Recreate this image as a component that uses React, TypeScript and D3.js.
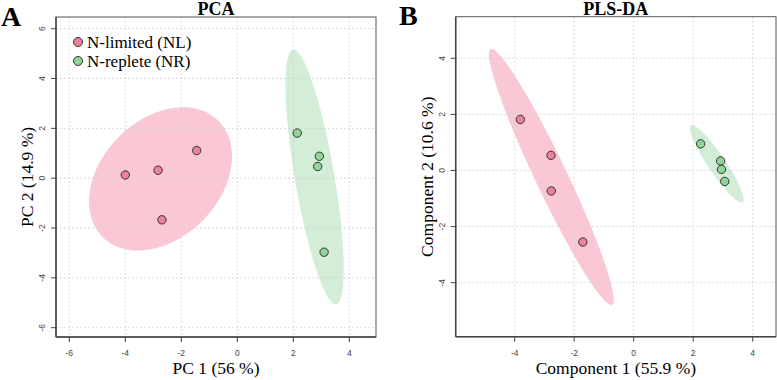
import { line, curveLinearClosed, range, scaleLinear } from 'd3';

// PCA scores (panel A)
const pcaNL = [
  [-4.0, 0.13],
  [-2.83, 0.32],
  [-1.45, 1.11],
  [-2.69, -1.67],
];
const pcaNR = [
  [2.14, 1.81],
  [2.93, 0.88],
  [2.87, 0.47],
  [3.1, -2.97],
];

// PLS-DA scores (panel B)
const plsNL = [
  [-3.81, 1.82],
  [-2.78, 0.54],
  [-2.77, -0.73],
  [-1.71, -2.55],
];
const plsNR = [
  [2.25, 0.95],
  [2.92, 0.34],
  [2.95, 0.04],
  [3.06, -0.39],
];

const pcaXTicks = [-6, -4, -2, 0, 2, 4];
const pcaYTicks = [-6, -4, -2, 0, 2, 4, 6];
const plsXTicks = [-4, -2, 0, 2, 4];
const plsYTicks = [-4, -2, 0, 2, 4];

const groups = ['N-limited (NL)', 'N-replete (NR)'];

const pointFill = ['#ec8299', '#8fd59a'];
const ellipseFill = ['#f9c8d4', '#d3edd6'];
const serif = '"Liberation Serif", "Times New Roman", serif';
const sans = '"Liberation Sans", Arial, sans-serif';

// 95% confidence ellipse from the sample covariance
function ellipsePoints(pts: number[][]) {
  const n = pts.length;
  const mx = pts.reduce((s, p) => s + p[0], 0) / n;
  const my = pts.reduce((s, p) => s + p[1], 0) / n;
  let sxx = 0, syy = 0, sxy = 0;
  pts.forEach(([x, y]) => {
    sxx += (x - mx) * (x - mx);
    syy += (y - my) * (y - my);
    sxy += (x - mx) * (y - my);
  });
  sxx /= n - 1; syy /= n - 1; sxy /= n - 1;
  const a = Math.sqrt(sxx);
  const b = sxy / a;
  const d = Math.sqrt(Math.max(syy - b * b, 0));
  const c = Math.sqrt(5.991);
  return range(0, 120).map(i => {
    const t = (i / 120) * Math.PI * 2;
    const u = Math.cos(t), v = Math.sin(t);
    return [mx + c * a * u, my + c * (b * u + d * v)];
  });
}

type PanelProps = {
  id: string;
  letter: string;
  title: string;
  xLabel: string;
  yLabel: string;
  box: { left: number; right: number; top: number; bottom: number };
  xDomain: [number, number];
  xRange: [number, number];
  yDomain: [number, number];
  yRange: [number, number];
  xTicks: number[];
  yTicks: number[];
  data: number[][][];
  legend?: boolean;
  letterX: number;
  letterY: number;
};

function Panel(p: PanelProps) {
  const x = scaleLinear().domain(p.xDomain).range(p.xRange);
  const y = scaleLinear().domain(p.yDomain).range(p.yRange);
  const { left, right, top, bottom } = p.box;
  const path = line<number[]>()
    .x(d => x(d[0]))
    .y(d => y(d[1]))
    .curve(curveLinearClosed);
  const cx = (left + right) / 2;
  const cy = (top + bottom) / 2;

  return (
    <g>
      <defs>
        <clipPath id={`clip-${p.id}`}>
          <rect x={left} y={top} width={right - left} height={bottom - top} />
        </clipPath>
      </defs>
      <g clipPath={`url(#clip-${p.id})`}>
        {p.data.map((pts, i) => (
          <path key={i} d={path(ellipsePoints(pts)) ?? ''} fill={ellipseFill[i]} />
        ))}
      </g>
      {p.xTicks.map(t => (
        <line key={`gx${t}`} x1={x(t)} x2={x(t)} y1={top} y2={bottom} stroke="#cfcfcf" strokeWidth={0.8} strokeDasharray="2 2" />
      ))}
      {p.yTicks.map(t => (
        <line key={`gy${t}`} x1={left} x2={right} y1={y(t)} y2={y(t)} stroke="#cfcfcf" strokeWidth={0.8} strokeDasharray="2 2" />
      ))}
      {p.data.map((pts, i) =>
        pts.map((d, j) => (
          <circle key={`${i}-${j}`} cx={x(d[0])} cy={y(d[1])} r={4.2} fill={pointFill[i]} stroke="#333" strokeWidth={1} />
        ))
      )}
      <rect x={left} y={top} width={right - left} height={bottom - top} fill="none" stroke="#555" strokeWidth={1} />
      <line x1={left} x2={left} y1={top} y2={bottom} stroke="#444" strokeWidth={1.5} />
      <line x1={left} x2={right} y1={bottom} y2={bottom} stroke="#444" strokeWidth={1.5} />
      {p.xTicks.map(t => (
        <g key={`tx${t}`}>
          <line x1={x(t)} x2={x(t)} y1={bottom} y2={bottom + 5} stroke="#444" />
          <text x={x(t)} y={356} textAnchor="middle" fontFamily={sans} fontSize={8.5} fill="#444">{t}</text>
        </g>
      ))}
      {p.yTicks.map(t => (
        <g key={`ty${t}`}>
          <line x1={left - 5} x2={left} y1={y(t)} y2={y(t)} stroke="#444" />
          <text transform={`translate(${left - 11},${y(t)}) rotate(-90)`} textAnchor="middle" fontFamily={sans} fontSize={8.5} fill="#444">{t}</text>
        </g>
      ))}
      <text x={cx} y={14.5} textAnchor="middle" fontFamily={serif} fontWeight="bold" fontSize={18}>{p.title}</text>
      <text x={p.letterX} y={p.letterY} fontFamily={serif} fontWeight="bold" fontSize={28}>{p.letter}</text>
      <text x={cx} y={374} textAnchor="middle" fontFamily={serif} fontSize={17.5}>{p.xLabel}</text>
      <text transform={`translate(${left - 23},${cy}) rotate(-90)`} textAnchor="middle" fontFamily={serif} fontSize={17.5}>{p.yLabel}</text>
      {p.legend &&
        groups.map((g, i) => (
          <g key={g}>
            <circle cx={left + 22} cy={42 + i * 19} r={4.5} fill={pointFill[i]} stroke="#333" />
            <text x={left + 31} y={48 + i * 19} fontFamily={serif} fontSize={17}>{g}</text>
          </g>
        ))}
    </g>
  );
}

export default function App() {
  return (
    <svg width={777} height={380} style={{ position: 'absolute', left: 0, top: 0, background: '#fff' }}>
      <Panel
        id="pca"
        letter="A"
        title="PCA"
        xLabel="PC 1 (56 %)"
        yLabel="PC 2 (14.9 %)"
        box={{ left: 56, right: 376, top: 17, bottom: 337 }}
        xDomain={[-6, 4]}
        xRange={[69.3, 349.3]}
        yDomain={[-6, 6]}
        yRange={[327.7, 28.7]}
        xTicks={pcaXTicks}
        yTicks={pcaYTicks}
        data={[pcaNL, pcaNR]}
        legend
        letterX={1}
        letterY={26}
      />
      <Panel
        id="pls"
        letter="B"
        title="PLS-DA"
        xLabel="Component 1 (55.9 %)"
        yLabel="Component 2 (10.6 %)"
        box={{ left: 455.7, right: 776, top: 16.7, bottom: 336.7 }}
        xDomain={[-4, 4]}
        xRange={[514.7, 752.7]}
        yDomain={[-4, 4]}
        yRange={[282.7, 58.3]}
        xTicks={plsXTicks}
        yTicks={plsYTicks}
        data={[plsNL, plsNR]}
        letterX={399}
        letterY={25}
      />
    </svg>
  );
}
